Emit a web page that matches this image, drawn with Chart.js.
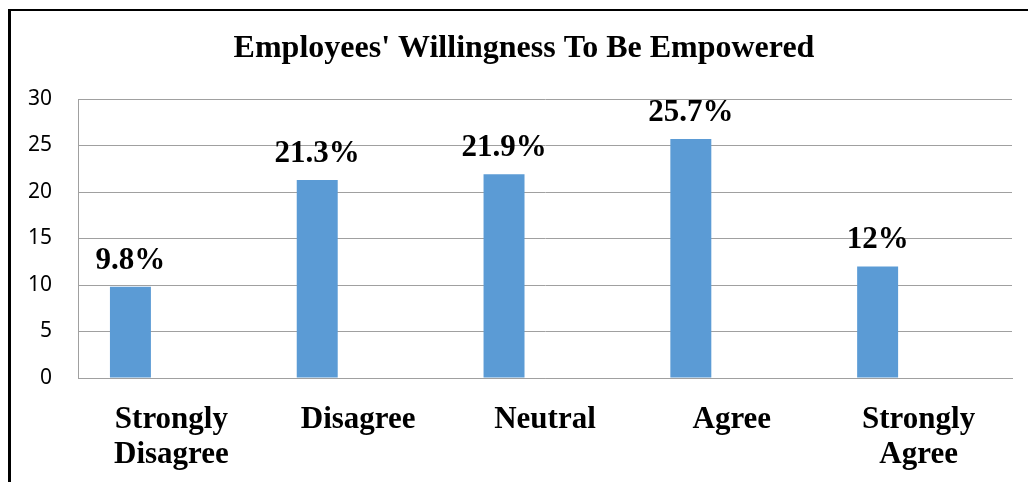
<!DOCTYPE html>
<html>
<head>
<meta charset="utf-8">
<script src="https://cdn.jsdelivr.net/npm/chart.js@4"></script>
<style>
	html, body { margin: 0; padding: 0; background: #fff; }
	#container { position: relative; width: 1028px; height: 482px; }
	#frame {
		position: absolute; left: 8px; top: 9px; right: 0; bottom: 0;
		border-left: 3px solid #000; border-top: 2px solid #000;
		pointer-events: none;
	}
</style>
</head>
<body>
<div id="container">
	<canvas id="graph" width="1028" height="482"></canvas>
	<div id="frame"></div>
</div>
<script>
// réponses au questionnaire
const chartTitle = "Employees' Willingness To Be Empowered"
const categories = [["Strongly", "Disagree"], "Disagree", "Neutral", "Agree", ["Strongly", "Agree"]]
const percentValues = [9.8, 21.3, 21.9, 25.7, 12]
// séries vides (comme dans le tableur d'origine)
const emptySeries2 = [null, null, null, null, null]
const emptySeries3 = [null, null, null, null, null]
const yTicks = [0, 5, 10, 15, 20, 25, 30]

const serifFamily = "'Liberation Serif', 'Times New Roman', serif"

// titre centré dans le cadre (et non sur la zone du graphique)
const frameTitle = {
	id: 'frameTitle',
	afterDraw(chart) {
		const ctx = chart.ctx
		ctx.save()
		ctx.font = "bold 32px " + serifFamily
		ctx.fillStyle = '#000'
		ctx.textAlign = 'center'
		ctx.textBaseline = 'middle'
		ctx.fillText(chartTitle, 524, 49)
		ctx.restore()
	}
}

// étiquettes au-dessus des barres
const valueLabels = {
	id: 'valueLabels',
	afterDatasetsDraw(chart) {
		const ctx = chart.ctx
		const meta = chart.getDatasetMeta(0)
		ctx.save()
		ctx.font = "bold 31px " + serifFamily
		ctx.fillStyle = '#000'
		ctx.textAlign = 'center'
		ctx.textBaseline = 'alphabetic'
		meta.data.forEach((bar, i) => {
			ctx.fillText(percentValues[i] + '%', bar.x, bar.y - 18)
		})
		ctx.restore()
	}
}

const gridColor = '#a0a0a0'

new Chart(document.getElementById('graph'), {
	type: 'bar',
	data: {
		labels: categories,
		datasets: [
			{ label: 'Series1', data: percentValues, backgroundColor: '#5b9bd5', borderWidth: 0 },
			{ label: 'Series2', data: emptySeries2, backgroundColor: '#ed7d31' },
			{ label: 'Series3', data: emptySeries3, backgroundColor: '#a5a5a5' }
		]
	},
	options: {
		responsive: false,
		animation: false,
		events: [],
		categoryPercentage: 0.658,
		barPercentage: 1,
		layout: { padding: { left: 0, right: 16, top: 99, bottom: 0 } },
		plugins: {
			legend: { display: false },
			tooltip: { enabled: false },
			title: { display: false }
		},
		scales: {
			x: {
				afterFit: scale => { scale.height = 104 },
				grid: { display: false, drawTicks: false },
				border: { display: true, color: gridColor, width: 1 },
				ticks: {
					color: '#000',
					font: { family: serifFamily, weight: 'bold', size: 31, lineHeight: 1.13 },
					padding: 24,
					maxRotation: 0,
					autoSkip: false
				}
			},
			y: {
				min: 0,
				max: 30,
				afterBuildTicks: scale => { scale.ticks = yTicks.map(v => ({ value: v })) },
				afterFit: scale => { scale.width = 78 },
				grid: { color: gridColor, lineWidth: 1, drawTicks: false },
				border: { display: true, color: gridColor, width: 1 },
				ticks: {
					color: '#000',
					font: { family: "'Noto Sans', 'Open Sans', sans-serif", size: 21 },
					padding: 26
				}
			}
		}
	},
	plugins: [valueLabels, frameTitle]
})
</script>
</body>
</html>
